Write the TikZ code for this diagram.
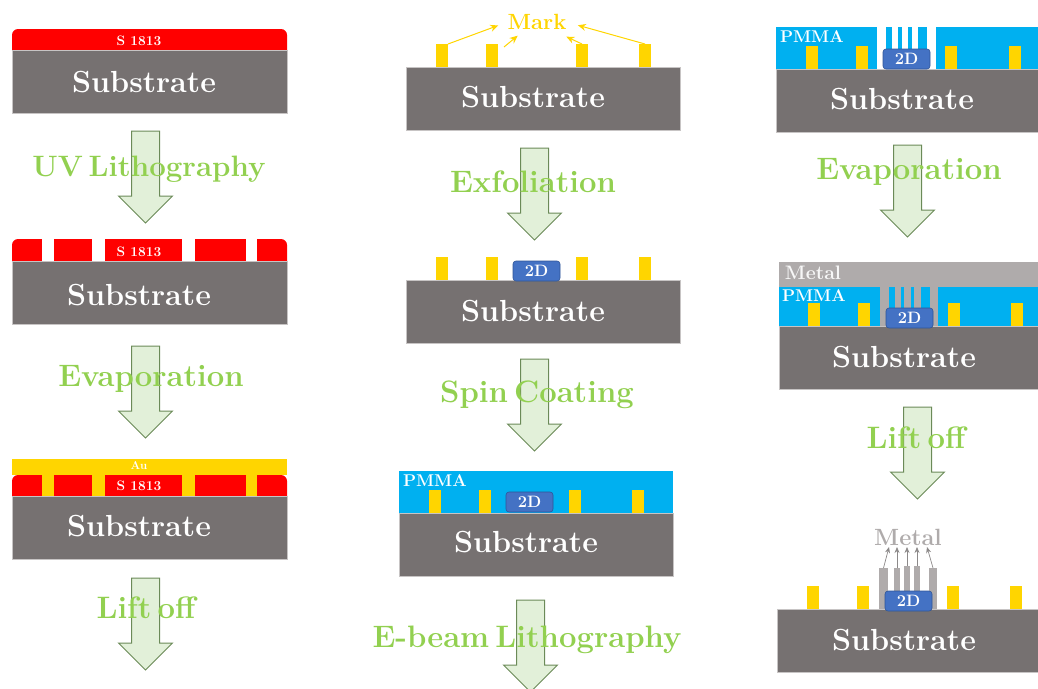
\documentclass[tikz,border=0pt]{standalone}
\usepackage{amsmath}
\usepackage[usenames,dvipsnames]{xcolor}
\usetikzlibrary{calc, shapes.arrows, arrows.meta}
\definecolor{subgray}{HTML}{767171}
\definecolor{metalgray}{HTML}{AFABAB}
\definecolor{gold}{HTML}{FFD500}
\definecolor{pmmablue}{HTML}{00B0F0}
\definecolor{flakeblue}{HTML}{4472C4}
\definecolor{flakeedge}{HTML}{2F5597}
\definecolor{stepgreen}{HTML}{92D050}
\definecolor{flowfill}{HTML}{E2F0D9}
\definecolor{flowedge}{HTML}{6B8A58}
\newcommand{\stepspace}{\spaceskip 0.2em\relax}

\begin{document}
\begin{tikzpicture}[x=1pt, y=-1pt, every node/.style={inner sep=0pt, outer sep=0pt},
	wafer/.style={fill=subgray, draw=metalgray!70, line width=0.6pt, anchor=north west, minimum width=#1, minimum height=63.5pt},
	wafertext/.style={text=white, font=\fontsize{30.5}{30.5}\bfseries},
	layertext/.style={text=white, font=\fontsize{13.7}{13.7}\bfseries},
	pmmatext/.style={text=white, font=\fontsize{17}{17}\bfseries, anchor=west},
	flake/.style={fill=flakeblue, draw=flakeedge, line width=0.6pt, rounded corners=3pt, anchor=north west, minimum width=47pt, minimum height=20pt, text=white, font=\fontsize{16.5}{16.5}\bfseries},
	bar/.style={fill=gold, anchor=south west, minimum width=12pt, minimum height=23pt},
	flow/.style={single arrow, shape border rotate=270, anchor=tail, fill=flowfill, draw=flowedge, line width=1pt, inner sep=13.5pt, minimum height=92pt, minimum width=53pt, single arrow head extend=13pt, single arrow head indent=0pt},
	steptext/.style={text=stepgreen, font=\fontsize{31}{31}\bfseries\stepspace},
	markarrow/.style={draw=gold, line width=1pt, -{Stealth[length=8pt, width=7pt]}},
	metalarrow/.style={draw=metalgray!80!black, line width=0.7pt, -{Stealth[length=6pt, width=5pt]}}]
	\useasboundingbox (0,0) rectangle (1038,688);

	\node[flow] (f1) at (145.5,131) {};
	\node[flow] (f2) at (145.5,346) {};
	\node[flow] (f3) at (145.5,578) {};
	\node[flow] (f4) at (534.5,148) {};
	\node[flow] (f5) at (534.5,359) {};
	\node[flow] (f6) at (530.5,600) {};
	\node[flow] (f7) at (907.5,145) {};
	\node[flow] (f8) at (917.5,407) {};

	\node[steptext, font=\fontsize{29.5}{29.5}\bfseries\stepspace] (uv) at (149,169) {UV Lithography};
	\node[steptext] (evap1) at (151,379) {Evaporation};
	\node[steptext] (lift1) at (146,608) {Lift off};
	\node[steptext] (exfo) at (533,182) {Exfoliation};
	\node[steptext] (spin) at (537,395) {Spin Coating};
	\node[steptext] (ebeam) at (527,640) {E-beam Lithography};
	\node[steptext] (evap2) at (909,172) {Evaporation};
	\node[steptext] (lift2) at (916,438) {Lift off};

	\fill[red] (12,50) [rounded corners=6pt] -- (12,29) -- (287,29) [sharp corners] -- (287,50) -- cycle;
	\node[wafer=275pt] (s1) at (12,50) {};
	\node[wafertext] (s1t) at (144,82) {Substrate};
	\node[layertext] (r1) at (139,41) {S 1813};

	\fill[red] (12,261) [rounded corners=6pt] -- (12,239) -- (287,239) [sharp corners] -- (287,261) -- cycle;
	\fill[white] (42,239) rectangle (54,261);
	\fill[white] (92,239) rectangle (105,261);
	\fill[white] (182,239) rectangle (195,261);
	\fill[white] (246,239) rectangle (257,261);
	\node[wafer=275pt] (s2) at (12,261) {};
	\node[wafertext] (s2t) at (139,295) {Substrate};
	\node[layertext] (r2) at (139,252) {S 1813};

	\fill[red] (12,496) [rounded corners=6pt] -- (12,475) -- (287,475) [sharp corners] -- (287,496) -- cycle;
	\fill[gold] (12,459) rectangle (287,475);
	\fill[gold] (42,475) rectangle (54,496);
	\fill[gold] (92,475) rectangle (105,496);
	\fill[gold] (182,475) rectangle (195,496);
	\fill[gold] (246,475) rectangle (257,496);
	\node[wafer=275pt] (s3) at (12,496) {};
	\node[wafertext] (s3t) at (139,526) {Substrate};
	\node[layertext] (r3) at (139,486) {S 1813};
	\node[text=white, font=\fontsize{11.5}{11.5}\bfseries] (au) at (139,466) {Au};

	\node[wafer=274pt] (s4) at (406,67) {};
	\node[wafertext] (s4t) at (533,97) {Substrate};
	\node[bar] (m1) at (436,67) {};
	\node[bar] (m2) at (486,67) {};
	\node[bar] (m3) at (576,67) {};
	\node[bar] (m4) at (639,67) {};
	\node[text=gold, font=\fontsize{22}{22}\bfseries] (mark) at (537,22) {Mark};
	\draw[markarrow, shorten >=10pt] (m1.north east) -- (mark.west);
	\draw[markarrow] ([xshift=6pt,yshift=-3pt]m2.north east) -- ([xshift=10pt,yshift=-6pt]mark.south west);
	\draw[markarrow] (m3.north) -- ([yshift=-7pt]mark.south east);
	\draw[markarrow, shorten >=12pt] (m4.north) -- (mark.east);

	\node[wafer=274pt] (s5) at (406,280) {};
	\node[wafertext] (s5t) at (533,311) {Substrate};
	\node[bar] (m5) at (436,280) {};
	\node[bar] (m6) at (486,280) {};
	\node[bar] (m7) at (576,280) {};
	\node[bar] (m8) at (639,280) {};
	\node[flake] (d1) at (513,261) {2D};

	\fill[pmmablue] (399,471) rectangle (673,513);
	\node[wafer=274pt] (s6) at (399,513) {};
	\node[wafertext] (s6t) at (526,542) {Substrate};
	\node[pmmatext] (p1) at (403,481) {PMMA};
	\node[bar] (m9) at (429,513) {};
	\node[bar] (m10) at (479,513) {};
	\node[bar] (m11) at (569,513) {};
	\node[bar] (m12) at (632,513) {};
	\node[flake] (d2) at (506,492) {2D};

	\fill[pmmablue] (776,27) rectangle (877,69);
	\fill[pmmablue] (886,27) rectangle (892,69);
	\fill[pmmablue] (898,27) rectangle (902,69);
	\fill[pmmablue] (908,27) rectangle (912,69);
	\fill[pmmablue] (918,27) rectangle (927,69);
	\fill[pmmablue] (936,27) rectangle (1038,69);
	\node[wafer=262pt] (s7) at (776,69) {};
	\node[wafertext] (s7t) at (902,99) {Substrate};
	\node[pmmatext] (p2) at (780,37) {PMMA};
	\node[bar] (m13) at (806,69) {};
	\node[bar] (m14) at (856,69) {};
	\node[bar] (m15) at (945,69) {};
	\node[bar] (m16) at (1009,69) {};
	\node[flake] (d3) at (883,49) {2D};

	\fill[metalgray] (779,262) rectangle (1038,326);
	\fill[pmmablue] (779,287) rectangle (880,326);
	\fill[pmmablue] (889,287) rectangle (895,326);
	\fill[pmmablue] (901,287) rectangle (904,326);
	\fill[pmmablue] (911,287) rectangle (914,326);
	\fill[pmmablue] (921,287) rectangle (930,326);
	\fill[pmmablue] (938,287) rectangle (1038,326);
	\node[wafer=259pt] (s8) at (779,326) {};
	\node[wafertext] (s8t) at (904,357) {Substrate};
	\node[pmmatext] (p3) at (782,296) {PMMA};
	\node[text=white!90!metalgray, font=\fontsize{19.5}{19.5}\bfseries] (met1) at (813,273) {Metal};
	\node[bar] (m17) at (808,326) {};
	\node[bar] (m18) at (858,326) {};
	\node[bar] (m19) at (948,326) {};
	\node[bar] (m20) at (1011,326) {};
	\node[flake] (d4) at (886,308) {2D};

	\node[wafer=261pt] (s9) at (777,609) {};
	\node[wafertext] (s9t) at (904,640) {Substrate};
	\node[bar] (m21) at (807,609) {};
	\node[bar] (m22) at (857,609) {};
	\node[bar] (m23) at (947,609) {};
	\node[bar] (m24) at (1010,609) {};
	\node[fill=metalgray, anchor=south west, minimum width=9pt, minimum height=41pt] (g1) at (879,609) {};
	\node[fill=metalgray, anchor=south west, minimum width=6pt, minimum height=41pt] (g2) at (894,609) {};
	\node[fill=metalgray, anchor=south west, minimum width=6pt, minimum height=43pt] (g3) at (904,609) {};
	\node[fill=metalgray, anchor=south west, minimum width=6pt, minimum height=43pt] (g4) at (914,609) {};
	\node[fill=metalgray, anchor=south west, minimum width=8pt, minimum height=41pt] (g5) at (929,609) {};
	\node[flake] (d5) at (885,591) {2D};
	\node[text=metalgray, font=\fontsize{23.5}{23.5}\bfseries] (met2) at (908,537) {Metal};
	\coordinate (e1) at (889,547);
	\coordinate (e2) at (897,547);
	\coordinate (e3) at (907,547);
	\coordinate (e4) at (917,547);
	\coordinate (e5) at (927,547);
	\draw[metalarrow] (g1.north) -- (e1);
	\draw[metalarrow] (g2.north) -- (e2);
	\draw[metalarrow] (g3.north) -- (e3);
	\draw[metalarrow] (g4.north) -- (e4);
	\draw[metalarrow] (g5.north) -- (e5);
\end{tikzpicture}
\end{document}
